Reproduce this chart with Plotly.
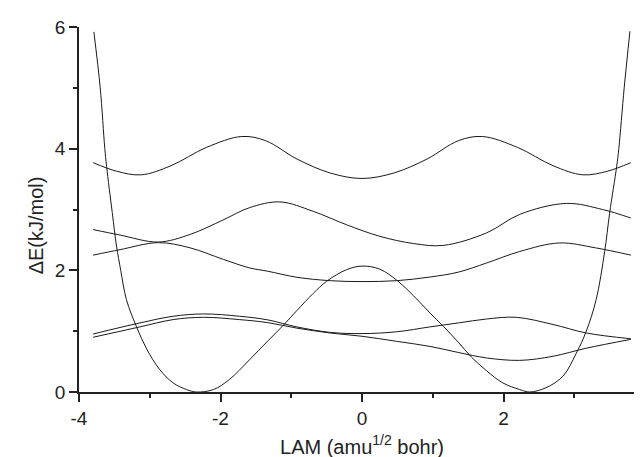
import plotly.graph_objects as go

# Potential energy curve (double well)
pot_x = [-3.79, -3.70, -3.635, -3.61, -3.53, -3.47, -3.41, -3.33, -3.19, -3.04, -2.86, -2.67, -2.48, -2.34,
         -2.10, -1.87, -1.59, -1.33, -1.11, -0.92, -0.69, -0.50, -0.22, 0.0, 0.25, 0.51, 0.73, 0.96, 1.15,
         1.36, 1.55, 1.76, 1.99, 2.23, 2.37, 2.60, 2.84, 3.03, 3.17, 3.31, 3.43, 3.50, 3.60, 3.63, 3.706, 3.787]
pot_y = [5.92, 5.0, 4.0, 3.71, 2.95, 2.40, 2.0, 1.52, 1.08, 0.70, 0.37, 0.15, 0.04, 0.0,
         0.04, 0.21, 0.53, 0.84, 1.10, 1.34, 1.62, 1.82, 2.01, 2.07, 2.02, 1.82, 1.58, 1.30, 1.08,
         0.82, 0.57, 0.35, 0.15, 0.04, 0.0, 0.07, 0.26, 0.64, 1.0, 1.52, 2.31, 2.94, 3.71, 4.0, 5.0, 5.93]

# Level curves
a_x = [-3.80, -3.47, -3.12, -2.70, -2.20, -1.70, -1.36, -0.92, -0.45, 0.0, 0.45, 0.92, 1.36, 1.70, 2.20, 2.70, 3.12, 3.47, 3.80]
a_y = [3.77, 3.63, 3.57, 3.72, 4.02, 4.20, 4.13, 3.83, 3.60, 3.51, 3.60, 3.83, 4.13, 4.20, 4.02, 3.72, 3.57, 3.63, 3.77]

b_x = [-3.80, -3.42, -2.88, -2.43, -1.96, -1.59, -1.16, -0.69, -0.22, 0.25, 0.73, 1.15, 1.76, 2.23, 2.89, 3.40, 3.80]
b_y = [2.67, 2.58, 2.465, 2.59, 2.83, 3.03, 3.125, 2.97, 2.75, 2.56, 2.44, 2.41, 2.615, 2.92, 3.10, 3.00, 2.86]

c_x = [-3.80, -3.42, -2.88, -2.43, -1.96, -1.59, -1.33, -0.92, -0.45, 0.0, 0.49, 0.96, 1.36, 1.76, 2.23, 2.79, 3.30, 3.80]
c_y = [2.25, 2.34, 2.455, 2.37, 2.18, 2.04, 1.985, 1.886, 1.83, 1.815, 1.83, 1.89, 1.97, 2.12, 2.31, 2.45, 2.37, 2.25]

d_x = [-3.80, -3.14, -2.67, -2.24, -1.73, -1.33, -0.92, -0.45, 0.0, 0.49, 0.96, 1.36, 1.76, 2.18, 2.70, 3.17, 3.80]
d_y = [0.954, 1.135, 1.245, 1.283, 1.245, 1.185, 1.07, 0.98, 0.96, 0.99, 1.07, 1.135, 1.20, 1.228, 1.11, 0.97, 0.875]

e_x = [-3.80, -3.14, -2.67, -2.24, -1.73, -1.33, -0.92, -0.45, 0.0, 0.49, 0.96, 1.36, 1.76, 2.23, 2.70, 3.17, 3.80]
e_y = [0.90, 1.07, 1.19, 1.228, 1.19, 1.14, 1.05, 0.97, 0.916, 0.833, 0.75, 0.65, 0.56, 0.52, 0.587, 0.72, 0.865]

x_ticks = [-4, -2, 0, 2, 4]
x_ticktext = ["-4", "-2", "0", "2", "4"]
y_ticks = [0, 2, 4, 6]
y_ticktext = ["0", "2", "4", "6"]

FONT = "Liberation Sans, Arial, Helvetica, sans-serif"
LINE = "#1a1a1a"

fig = go.Figure()
for xs, ys in [(pot_x, pot_y), (a_x, a_y), (b_x, b_y), (c_x, c_y), (d_x, d_y), (e_x, e_y)]:
    fig.add_trace(go.Scatter(x=xs, y=ys, mode="lines",
                             line=dict(color=LINE, width=1, shape="spline", smoothing=1.0),
                             showlegend=False, hoverinfo="skip"))

axis_common = dict(showline=True, linecolor="#222", linewidth=1.5, ticks="outside",
                   ticklen=8, tickwidth=1.5, tickcolor="#222", showgrid=False, zeroline=False,
                   tickfont=dict(family=FONT, size=19, color="#222"))

fig.update_xaxes(range=[-4, 4], tickvals=x_ticks, ticktext=x_ticktext,
                 minor=dict(ticks="outside", ticklen=4, tickwidth=1.5, tickcolor="#222", dtick=1, tick0=0),
                 title=dict(text="LAM (amu<sup>1/2</sup> bohr)", font=dict(family=FONT, size=20, color="#222"),
                            standoff=12),
                 **axis_common)
fig.update_yaxes(range=[0, 6], tickvals=y_ticks, ticktext=y_ticktext,
                 minor=dict(ticks="outside", ticklen=4, tickwidth=1.5, tickcolor="#222", dtick=1, tick0=0),
                 **axis_common)

fig.add_annotation(text="ΔE(kJ/mol)", textangle=-90, xref="paper", yref="paper",
                   x=-0.0763, y=0.456, xanchor="center", yanchor="middle", showarrow=False,
                   font=dict(family=FONT, size=20, color="#222"))

fig.update_layout(width=642, height=457, margin=dict(l=71, r=5, t=19, b=73, autoexpand=False),
                  plot_bgcolor="white", paper_bgcolor="white")

fig.write_html("out.html")
